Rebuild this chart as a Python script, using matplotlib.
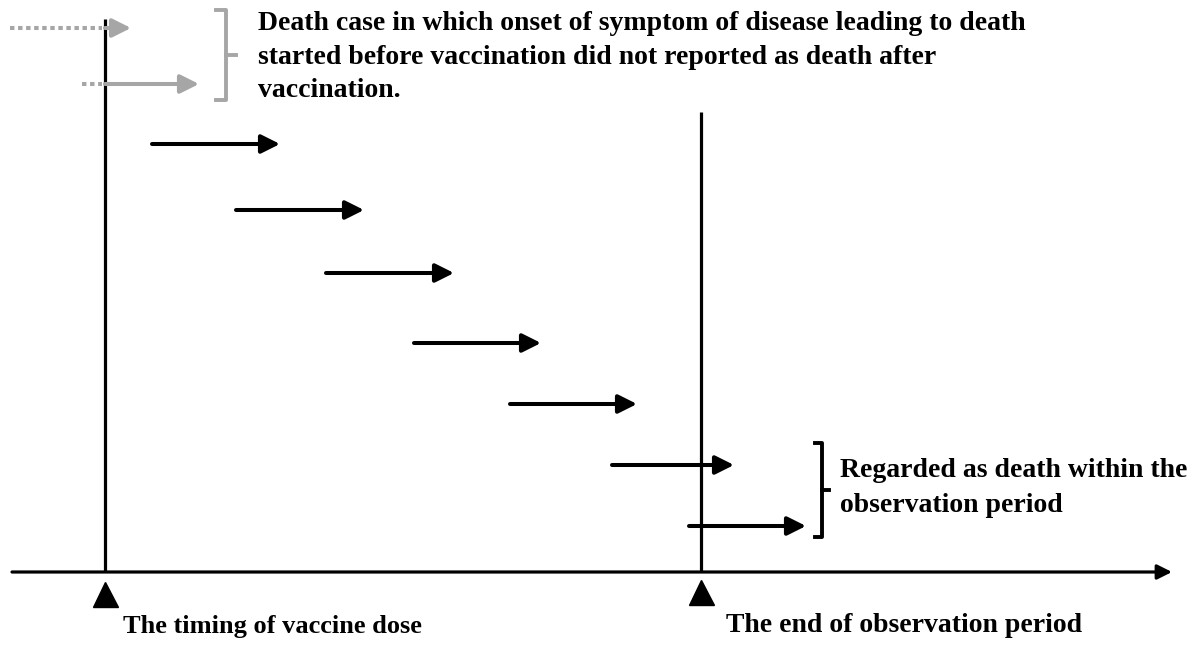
import matplotlib.pyplot as plt
import matplotlib as mpl

mpl.rcParams['font.family'] = ['Liberation Serif', 'DejaVu Serif']

# timeline positions (pixel space of the original diagram)
vaccine_x = 105
end_x = 701
axis_y = 572

# death cases: (start, end, y)
case_starts = [152, 236, 326, 414, 510, 612, 689]
case_ends = [280, 364, 454, 541, 637, 734, 806]
case_ys = [144, 210, 273, 343, 404, 465, 526]

# excluded cases (grey): dotted part start, solid end, y
excl_starts = [10, 82]
excl_ends = [131, 199]
excl_ys = [28, 84]

top_text = ("Death case in which onset of symptom of disease leading to death\n"
            "started before vaccination did not reported as death after\n"
            "vaccination.")
right_text = "Regarded as death within the\nobservation period"
labels = ["The timing of vaccine dose", "The end of observation period"]

fig = plt.figure(figsize=(11.95, 6.46), dpi=100)
ax = fig.add_axes([0, 0, 1, 1])
ax.set_xlim(0, 1195)
ax.set_ylim(646, 0)
ax.axis('off')

lw = 2.3
grey = '#a6a6a6'

# horizontal time axis
ax.annotate("", xy=(1172, axis_y), xytext=(12, axis_y),
            arrowprops=dict(arrowstyle='-|>', lw=lw, color='black',
                            mutation_scale=22, shrinkA=0, shrinkB=0))
# vertical lines
ax.plot([vaccine_x, vaccine_x], [19, axis_y], color='black', lw=lw, solid_capstyle='butt')
ax.plot([end_x, end_x], [112, axis_y], color='black', lw=lw, solid_capstyle='butt')

# triangles
ax.plot([vaccine_x, end_x], [594, 592], marker='^', markersize=18, color='black', linestyle='none')

# death case arrows
for s, e, y in zip(case_starts, case_ends, case_ys):
    ax.annotate("", xy=(e, y), xytext=(s, y),
                arrowprops=dict(arrowstyle='-|>', lw=lw + 0.6, color='black',
                                mutation_scale=28, shrinkA=0, shrinkB=0))

# grey excluded arrows
for s, e, y in zip(excl_starts, excl_ends, excl_ys):
    ax.plot([s, vaccine_x - 3], [y, y], color=grey, lw=lw + 0.6, linestyle=(0, (1.1, 0.9)))
    ax.annotate("", xy=(e, y), xytext=(vaccine_x, y),
                arrowprops=dict(arrowstyle='-|>', lw=lw + 0.6, color=grey,
                                mutation_scale=28, shrinkA=0, shrinkB=0))

# brackets
def bracket(x0, x1, xt, y0, y1, color):
    ym = (y0 + y1) / 2
    ax.plot([x0, x1, x1, x0], [y0, y0, y1, y1], color=color, lw=lw + 0.5,
            solid_joinstyle='round')
    ax.plot([x1, xt], [ym, ym], color=color, lw=lw + 0.5)

bracket(216, 226, 236, 10, 100, grey)
bracket(815, 822, 829, 443, 537, 'black')

ax.text(258, 57, top_text, fontsize=20, fontweight='bold', va='center', ha='left',
        linespacing=1.45)
ax.text(840, 488, right_text, fontsize=20, fontweight='bold', va='center', ha='left',
        linespacing=1.55)
ax.text(123, 626, labels[0], fontsize=19, fontweight='bold', va='center', ha='left')
ax.text(726, 625, labels[1], fontsize=20, fontweight='bold', va='center', ha='left')

fig.savefig("out.png", dpi=100)
